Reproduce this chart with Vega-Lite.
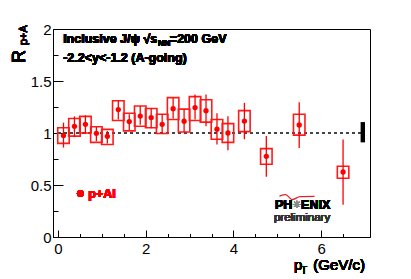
{
  "$schema": "https://vega.github.io/schema/vega-lite/v6.json",
  "width": 317,
  "height": 208,
  "autosize": "none",
  "padding": {"left": 53, "top": 29, "right": 41, "bottom": 42},
  "background": "white",
  "config": {
    "font": "Liberation Sans",
    "view": {"stroke": "black", "strokeWidth": 1},
    "axis": {"grid": false, "domainColor": "black", "domainWidth": 1, "tickColor": "black", "tickWidth": 1, "labelColor": "black", "labelFont": "Liberation Sans", "labelFontSize": 15, "labelFlush": false, "labelOverlap": false}
  },
  "data": {
    "values": [
      {"pt": 0.125, "r": 0.975, "slo": 0.86, "shi": 1.10, "blo": 0.90, "bhi": 1.05},
      {"pt": 0.375, "r": 1.064, "slo": 0.96, "shi": 1.16, "blo": 0.97, "bhi": 1.14},
      {"pt": 0.625, "r": 1.083, "slo": 0.99, "shi": 1.17, "blo": 1.00, "bhi": 1.16},
      {"pt": 0.875, "r": 0.997, "slo": 0.92, "shi": 1.06, "blo": 0.91, "bhi": 1.06},
      {"pt": 1.125, "r": 0.968, "slo": 0.90, "shi": 1.02, "blo": 0.89, "bhi": 1.035},
      {"pt": 1.375, "r": 1.225, "slo": 1.13, "shi": 1.31, "blo": 1.12, "bhi": 1.31},
      {"pt": 1.625, "r": 1.11, "slo": 1.03, "shi": 1.18, "blo": 1.02, "bhi": 1.19},
      {"pt": 1.875, "r": 1.163, "slo": 1.08, "shi": 1.26, "blo": 1.065, "bhi": 1.26},
      {"pt": 2.125, "r": 1.148, "slo": 1.045, "shi": 1.235, "blo": 1.05, "bhi": 1.235},
      {"pt": 2.375, "r": 1.083, "slo": 0.99, "shi": 1.18, "blo": 0.995, "bhi": 1.18},
      {"pt": 2.625, "r": 1.234, "slo": 1.14, "shi": 1.34, "blo": 1.13, "bhi": 1.34},
      {"pt": 2.875, "r": 1.113, "slo": 1.01, "shi": 1.23, "blo": 1.01, "bhi": 1.23},
      {"pt": 3.125, "r": 1.244, "slo": 1.13, "shi": 1.37, "blo": 1.12, "bhi": 1.35},
      {"pt": 3.375, "r": 1.215, "slo": 1.065, "shi": 1.37, "blo": 1.105, "bhi": 1.32},
      {"pt": 3.625, "r": 1.036, "slo": 0.89, "shi": 1.19, "blo": 0.94, "bhi": 1.13},
      {"pt": 3.875, "r": 1.0, "slo": 0.835, "shi": 1.16, "blo": 0.91, "bhi": 1.09},
      {"pt": 4.25, "r": 1.115, "slo": 0.94, "shi": 1.29, "blo": 1.013, "bhi": 1.215},
      {"pt": 4.75, "r": 0.776, "slo": 0.58, "shi": 0.97, "blo": 0.70, "bhi": 0.85},
      {"pt": 5.5, "r": 1.077, "slo": 0.856, "shi": 1.295, "blo": 0.98, "bhi": 1.18},
      {"pt": 6.5, "r": 0.625, "slo": 0.31, "shi": 0.937, "blo": 0.565, "bhi": 0.68}
    ]
  },
  "layer": [
    {
      "mark": {"type": "rule", "strokeDash": [3, 3], "color": "#444444", "strokeWidth": 1},
      "encoding": {
        "x": {"datum": 0, "type": "quantitative", "axis": null},
        "x2": {"datum": 7},
        "y": {"datum": 1, "type": "quantitative", "axis": null}
      }
    },
    {
      "mark": {"type": "bar", "width": 11.5, "fill": "transparent", "stroke": "#ff1a1a", "strokeWidth": 1.6},
      "encoding": {
        "x": {"field": "pt", "type": "quantitative", "scale": {"domain": [0, 7], "nice": false, "zero": false},
              "axis": {"orient": "bottom", "values": [0, 2, 4, 6], "format": "~g", "tickSize": -7, "labelPadding": 11, "title": null}},
        "y": {"field": "blo", "type": "quantitative", "scale": {"domain": [0, 2], "nice": false, "zero": false},
              "axis": {"orient": "left", "values": [0, 0.5, 1, 1.5, 2], "format": "~g", "tickSize": -10, "labelPadding": 12, "title": null}},
        "y2": {"field": "bhi"}
      }
    },
    {
      "mark": {"type": "rule", "color": "#ff0000", "strokeWidth": 1.3},
      "encoding": {
        "x": {"field": "pt", "type": "quantitative",
              "axis": {"orient": "bottom", "values": [0.5, 1, 1.5, 2.5, 3, 3.5, 4.5, 5, 5.5, 6.5], "tickSize": -3.5, "labels": false, "domain": false, "title": null}},
        "y": {"field": "slo", "type": "quantitative",
              "axis": {"orient": "left", "values": [0.25, 0.75, 1.25, 1.75], "tickSize": -5, "labels": false, "domain": false, "title": null}},
        "y2": {"field": "shi"}
      }
    },
    {
      "mark": {"type": "point", "filled": true, "color": "#ff0000", "size": 28, "opacity": 1},
      "encoding": {
        "x": {"field": "pt", "type": "quantitative", "axis": null},
        "y": {"field": "r", "type": "quantitative", "axis": null}
      }
    },
    {
      "data": {"values": [{"lo": 0.91, "hi": 1.105}]},
      "mark": {"type": "rect", "color": "black"},
      "encoding": {
        "x": {"datum": 6.9, "type": "quantitative", "axis": null},
        "x2": {"datum": 7},
        "y": {"field": "lo", "type": "quantitative", "axis": null},
        "y2": {"field": "hi"}
      }
    },
    {
      "data": {"values": [{"sx": 5.05, "sy": 0.394}, {"sx": 5.19, "sy": 0.408}, {"sx": 5.34, "sy": 0.36}, {"sx": 5.52, "sy": 0.388}, {"sx": 5.85, "sy": 0.39}]},
      "mark": {"type": "line", "color": "#e8202a", "strokeWidth": 1.3, "interpolate": "monotone"},
      "encoding": {
        "x": {"field": "sx", "type": "quantitative", "axis": null},
        "y": {"field": "sy", "type": "quantitative", "axis": null}
      }
    },
    {
      "mark": {"type": "text", "text": "Inclusive J/ψ  √s", "align": "left", "baseline": "alphabetic", "fontWeight": "bold", "fontSize": 12.5, "color": "black"},
      "encoding": {"x": {"datum": 0.117, "type": "quantitative", "axis": null}, "y": {"datum": 1.8625, "type": "quantitative", "axis": null}}
    },
    {
      "mark": {"type": "text", "text": "NN", "align": "left", "baseline": "alphabetic", "fontWeight": "bold", "fontSize": 8.5, "color": "black"},
      "encoding": {"x": {"datum": 2.28, "type": "quantitative", "axis": null}, "y": {"datum": 1.832, "type": "quantitative", "axis": null}}
    },
    {
      "mark": {"type": "text", "text": "=200 GeV", "align": "left", "baseline": "alphabetic", "fontWeight": "bold", "fontSize": 12.5, "color": "black"},
      "encoding": {"x": {"datum": 2.55, "type": "quantitative", "axis": null}, "y": {"datum": 1.8625, "type": "quantitative", "axis": null}}
    },
    {
      "mark": {"type": "text", "text": "-2.2<y<-1.2 (A-going)", "align": "left", "baseline": "alphabetic", "fontWeight": "bold", "fontSize": 12.5, "color": "black"},
      "encoding": {"x": {"datum": 0.117, "type": "quantitative", "axis": null}, "y": {"datum": 1.686, "type": "quantitative", "axis": null}}
    },
    {
      "mark": {"type": "point", "filled": true, "color": "#ff0000", "size": 45, "opacity": 1},
      "encoding": {"x": {"datum": 0.508, "type": "quantitative", "axis": null}, "y": {"datum": 0.418, "type": "quantitative", "axis": null}}
    },
    {
      "mark": {"type": "text", "text": "p+Al", "align": "left", "baseline": "alphabetic", "fontWeight": "bold", "fontSize": 12.5, "color": "#ff0000"},
      "encoding": {"x": {"datum": 0.691, "type": "quantitative", "axis": null}, "y": {"datum": 0.375, "type": "quantitative", "axis": null}}
    },
    {
      "mark": {"type": "text", "text": "PH", "align": "right", "baseline": "alphabetic", "fontWeight": "bold", "fontSize": 12.5, "color": "black"},
      "encoding": {"x": {"datum": 5.344, "type": "quantitative", "axis": null}, "y": {"datum": 0.269, "type": "quantitative", "axis": null}}
    },
    {
      "mark": {"type": "text", "text": "✳", "align": "center", "baseline": "middle", "fontSize": 10, "color": "#8a8a8a", "font": "DejaVu Sans"},
      "encoding": {"x": {"datum": 5.443, "type": "quantitative", "axis": null}, "y": {"datum": 0.308, "type": "quantitative", "axis": null}}
    },
    {
      "mark": {"type": "text", "text": "ENIX", "align": "left", "baseline": "alphabetic", "fontWeight": "bold", "fontSize": 12.5, "color": "black"},
      "encoding": {"x": {"datum": 5.543, "type": "quantitative", "axis": null}, "y": {"datum": 0.269, "type": "quantitative", "axis": null}}
    },
    {
      "mark": {"type": "text", "text": "preliminary", "align": "center", "baseline": "alphabetic", "fontSize": 11.5, "color": "#333333"},
      "encoding": {"x": {"datum": 5.565, "type": "quantitative", "axis": null}, "y": {"datum": 0.15, "type": "quantitative", "axis": null}}
    },
    {
      "mark": {"type": "text", "text": "(GeV/c)", "align": "right", "baseline": "alphabetic", "fontSize": 15, "color": "black"},
      "encoding": {"x": {"datum": 7.0, "type": "quantitative", "axis": null}, "y": {"datum": -0.322, "type": "quantitative", "axis": null}}
    },
    {
      "mark": {"type": "text", "text": "p", "align": "left", "baseline": "alphabetic", "fontSize": 15, "color": "black"},
      "encoding": {"x": {"datum": 5.38, "type": "quantitative", "axis": null}, "y": {"datum": -0.322, "type": "quantitative", "axis": null}}
    },
    {
      "mark": {"type": "text", "text": "T", "align": "left", "baseline": "alphabetic", "fontSize": 10, "color": "black"},
      "encoding": {"x": {"datum": 5.542, "type": "quantitative", "axis": null}, "y": {"datum": -0.36, "type": "quantitative", "axis": null}}
    },
    {
      "mark": {"type": "text", "text": "R", "align": "left", "baseline": "alphabetic", "angle": 270, "fontSize": 18, "color": "black"},
      "encoding": {"x": {"datum": -0.751, "type": "quantitative", "axis": null}, "y": {"datum": 1.673, "type": "quantitative", "axis": null}}
    },
    {
      "mark": {"type": "text", "text": "p+A", "align": "left", "baseline": "alphabetic", "angle": 270, "fontSize": 11, "color": "black"},
      "encoding": {"x": {"datum": -0.707, "type": "quantitative", "axis": null}, "y": {"datum": 1.846, "type": "quantitative", "axis": null}}
    }
  ],
  "resolve": {"axis": {"x": "independent", "y": "independent"}}
}
